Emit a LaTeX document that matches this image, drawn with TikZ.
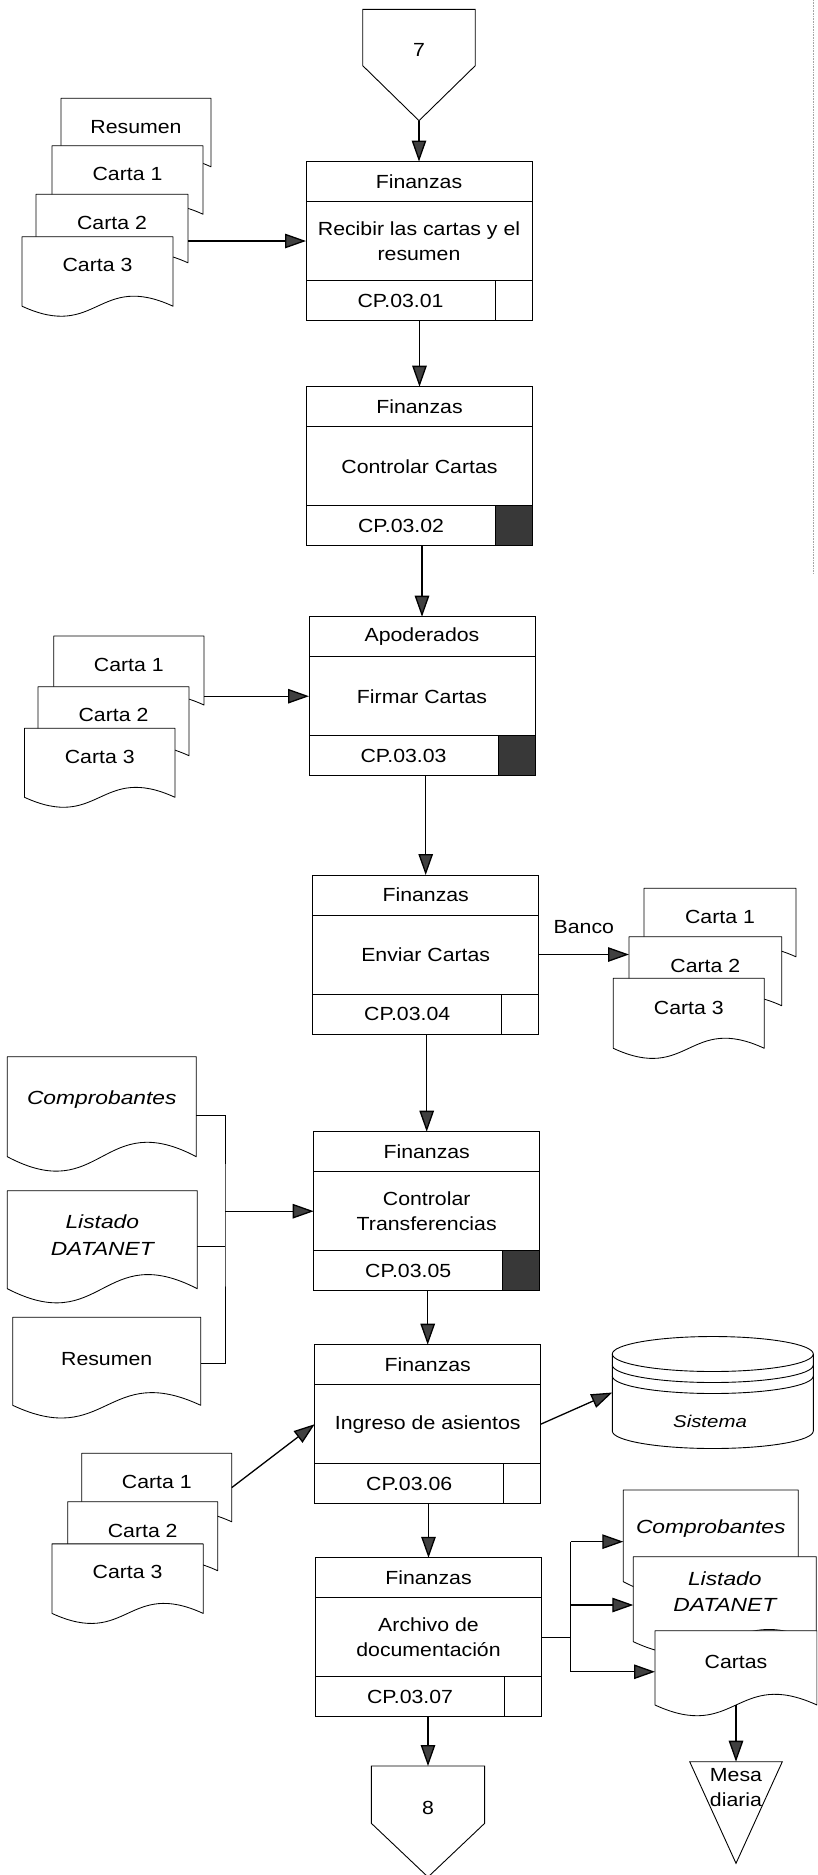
\documentclass[tikz,border=0pt]{standalone}
\usepackage{fontspec}
\setmainfont{Liberation Sans}[UprightFeatures={FakeStretch=1.12},ItalicFeatures={FakeStretch=1.2}]
\usetikzlibrary{arrows.meta,calc}

\tikzset{
  every node/.style={inner sep=0pt, outer sep=0pt},
  lbl/.style={font=\fontsize{19}{24.5}\selectfont, align=center},
  ilbl/.style={font=\fontsize{19}{26.5}\selectfont\itshape, align=center},
  mlbl/.style={font=\fontsize{19}{25}\selectfont, align=center},
  procnode/.style={draw, line width=0.9pt, fill=white, minimum width=226pt, minimum height=159pt},
  frame/.style={draw, line width=0.9pt},
  docline/.style={draw, line width=0.85pt, fill=white, line join=round},
  flow/.style={line width=1.3pt, -{Triangle[length=21pt,width=14.5pt,fill=black!75]}},
  bus/.style={line width=1pt},
}

% process box: name, left x, top y, role, task, code, colour of the status cell
\newcommand{\procbox}[7]{%
  \node[procnode, anchor=north west] (#1) at (#2,#3) {};
  \fill[#7] ([xshift=-37pt,yshift=40pt]#1.south east) rectangle (#1.south east);
  \draw[frame] ([yshift=-40pt]#1.north west) -- ([yshift=-40pt]#1.north east);
  \draw[frame] ([yshift=40pt]#1.south west) -- ([yshift=40pt]#1.south east);
  \draw[frame] ([xshift=-37pt]#1.south east) -- ([xshift=-37pt,yshift=40pt]#1.south east);
  \draw[frame] (#1.north west) rectangle (#1.south east);
  \node[lbl] (#1-role) at ([yshift=-20pt]#1.north) {#4};
  \node[lbl] (#1-task) at (#1.center) {#5};
  \node[lbl] (#1-code) at ([xshift=-18.5pt,yshift=20pt]#1.south) {#6};
}

% document sheet with wavy lower edge: [text style] name, left x, top y, width, height, text drop, text
\newcommand{\docsh}[8][lbl]{%
  \node[anchor=north west, minimum width=#5pt, minimum height=#6pt] (#2) at (#3,#4) {};
  \path[docline] (#2.north west) -- (#2.north east) -- (#2.south east)
    .. controls ([yshift=#6*0.5pt]#2.south) and ([yshift=-#6*0.5pt]#2.south) .. (#2.south west) -- cycle;
  \node[#1] (#2-t) at ([yshift=-#7pt]#2.north) {#8};
}

\begin{document}
\begin{tikzpicture}[x=1pt, y=-1pt]
\useasboundingbox (0,0) rectangle (817,1875);
\fill[white] (0,0) rectangle (817,1875);
\clip (0,0) rectangle (817,1875);

% faint sheet edge on the right
\draw[black!35, line width=0.6pt, densely dotted] (813,0) -- (813,573);

% off-page connector 7
\node[minimum width=112.5pt, minimum height=111.4pt, anchor=north] (c7) at (419,9.3) {};
\draw[frame, fill=white] (c7.north west) -- (c7.north east) -- ([yshift=-56.4pt]c7.north east)
  -- (c7.south) -- ([yshift=-56.4pt]c7.north west) -- cycle;
\node[lbl] (c7-t) at (419,50) {7};

% process steps
\procbox{b1}{306}{161.5}{Finanzas}{Recibir las cartas y el\\resumen}{CP.03.01}{white}
\procbox{b2}{306.5}{386.7}{Finanzas}{Controlar Cartas}{CP.03.02}{black!78}
\procbox{b3}{309}{616.7}{Apoderados}{Firmar Cartas}{CP.03.03}{black!78}
\procbox{b4}{312.7}{875}{Finanzas}{Enviar Cartas}{CP.03.04}{white}
\procbox{b5}{313.7}{1131.7}{Finanzas}{Controlar\\Transferencias}{CP.03.05}{black!78}
\procbox{b6}{314.7}{1344.7}{Finanzas}{Ingreso de asientos}{CP.03.06}{white}
\procbox{b7}{315.5}{1557.8}{Finanzas}{Archivo de\\documentación}{CP.03.07}{white}

% documents received by CP.03.01
\docsh{gA0}{61}{98.3}{150}{68.5}{28.5}{Resumen}
\docsh{gA1}{52}{145.7}{151}{68.5}{28.5}{Carta 1}
\docsh{gA2}{36}{194.3}{152}{68.5}{28.5}{Carta 2}
\docsh{gA3}{22}{236.7}{151}{69.5}{28.5}{Carta 3}

% letters to sign
\docsh{gB1}{53.7}{636}{150.3}{69}{29}{Carta 1}
\docsh{gB2}{38}{686.7}{151}{69}{28.5}{Carta 2}
\docsh{gB3}{24.5}{728.3}{150.5}{69}{28.5}{Carta 3}

% letters sent to the bank
\docsh{gC1}{644}{888.3}{152}{68.5}{28.5}{Carta 1}
\docsh{gC2}{629}{936.7}{152.7}{69}{29}{Carta 2}
\docsh{gC3}{613.3}{978.3}{151}{70}{30}{Carta 3}

% inputs of the transfer control
\docsh[ilbl]{cmpL}{7.3}{1056.7}{189}{100}{43.3}{Comprobantes}
\docsh[ilbl]{lisL}{7.3}{1190.7}{190}{98}{44.3}{Listado\\DATANET}
\docsh{resL}{12.7}{1317.3}{188}{88}{42}{Resumen}

% letters for the entries
\docsh{gD1}{81.8}{1453.3}{150}{68.5}{28.2}{Carta 1}
\docsh{gD2}{67.7}{1501.7}{150}{69}{29.3}{Carta 2}
\docsh{gD3}{52}{1543.9}{151.2}{69.5}{28.1}{Carta 3}

% archived documents
\docsh[ilbl]{cmpR}{623.3}{1490}{175}{91.7}{38.3}{Comprobantes}
\docsh[ilbl]{lisR}{633.3}{1556.7}{183}{85}{35}{Listado\\DATANET}
\docsh{carR}{655}{1630.7}{162}{74.3}{31}{Cartas}

% stored data
\node[minimum width=201pt, minimum height=77pt] (sis) at (712.8,1392.5) {};
\fill[white] (sis.north west) -- (sis.south west)
  arc[start angle=180, end angle=360, x radius=100.5pt, y radius=17.5pt] -- (sis.north east)
  arc[start angle=0, end angle=180, x radius=100.5pt, y radius=17.5pt] -- cycle;
\draw[frame] (sis.north) ellipse[x radius=100.5pt, y radius=17.5pt];
\draw[frame] (sis.north west) -- (sis.south west)
  arc[start angle=180, end angle=360, x radius=100.5pt, y radius=17.5pt] -- (sis.north east);
\draw[frame] ([yshift=-11pt]sis.north west) arc[start angle=180, end angle=360, x radius=100.5pt, y radius=17.5pt];
\draw[frame] ([yshift=-22pt]sis.north west) arc[start angle=180, end angle=360, x radius=100.5pt, y radius=17.5pt];
\node[font=\fontsize{17}{20}\selectfont\itshape] (sis-t) at ([xshift=-2.8pt,yshift=-29pt]sis.center) {Sistema};

% permanent file
\node[minimum width=92.6pt, minimum height=101.6pt, anchor=north] (mesa) at (736,1761.7) {};
\draw[frame, fill=white] (mesa.north west) -- (mesa.north east) -- (mesa.south) -- cycle;
\node[mlbl] (mesa-t) at ([yshift=-25.8pt]mesa.north) {Mesa\\diaria};

% off-page connector 8
\node[minimum width=113.3pt, minimum height=111pt, anchor=north] (c8) at (428,1766) {};
\draw[frame, fill=white] (c8.north west) -- (c8.north east) -- ([yshift=-57.3pt]c8.north east)
  -- (c8.south) -- ([yshift=-57.3pt]c8.north west) -- cycle;
\node[lbl] (c8-t) at (428,1808.3) {8};

% main flow
\draw[flow] (c7.south) -- (b1.north);
\draw[flow] (b2.north |- b1.south) -- (b2.north);
\draw[flow] (b3.north |- b2.south) -- (b3.north);
\draw[flow] (b4.north |- b3.south) -- (b4.north);
\draw[flow] (b5.north |- b4.south) -- (b5.north);
\draw[flow] (b6.north |- b5.south) -- (b6.north);
\draw[flow] (b7.north |- b6.south) -- (b7.north);
\draw[flow] (c8.north |- b7.south) -- (c8.north);

% document inputs and outputs
\draw[flow] (gA2.east |- b1.west) -- (b1.west);
\draw[flow] (gB1.east |- b3.west) -- (b3.west);
\draw[flow] (b4.east) -- (gC2.west |- b4.east)
  node[lbl, midway, yshift=27pt] (banco) {Banco};

\coordinate (lbus) at (225,0);
\coordinate (cmpLout) at ([yshift=-8.3pt]cmpL.east);
\coordinate (lisLout) at ([yshift=-7pt]lisL.east);
\coordinate (resLout) at ([yshift=-1.7pt]resL.east);
\draw[bus] (cmpLout) -| (lbus |- b5.west) |- (resLout);
\draw[bus] (lisLout) -- (lisLout -| lbus);
\draw[flow] (lbus |- b5.west) -- (b5.west);

\draw[flow] (gD1.east) -- (b6.west);
\draw[flow] (b6.east) -- (sis.west);

\coordinate (rbus) at (570.6,0);
\coordinate (cmpRin) at ([yshift=-5.8pt]cmpR.west);
\coordinate (lisRin) at ([yshift=-5.8pt]lisR.west);
\coordinate (carRin) at ([yshift=-3.9pt]carR.west);
\draw[bus] (b7.east) -- (b7.east -| rbus);
\draw[bus] (rbus |- cmpRin) -- (rbus |- carRin);
\draw[flow] (rbus |- cmpRin) -- (cmpRin);
\draw[flow] (rbus |- lisRin) -- (lisRin);
\draw[flow] (rbus |- carRin) -- (carRin);
\draw[flow] (carR.south) -- (mesa.north);
\end{tikzpicture}
\end{document}
